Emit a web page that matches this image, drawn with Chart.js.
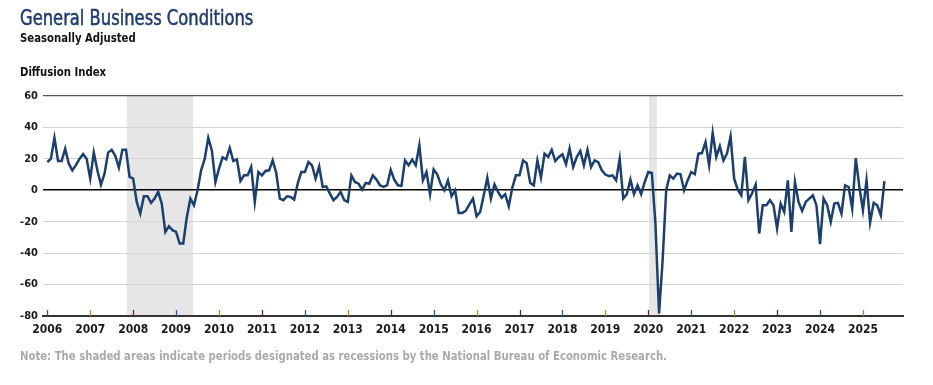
<!DOCTYPE html>
<html>
<head>
<meta charset="utf-8">
<script src="https://cdn.jsdelivr.net/npm/chart.js@4.4.1/dist/chart.umd.min.js"></script>
<style>
    body { margin: 0; background: #fff; }
    #wrap { position: relative; width: 933px; height: 385px; overflow: hidden; font-family: 'Liberation Sans Narrow', 'DejaVu Sans Condensed', 'Arial Narrow', sans-serif; }
    #wrap canvas { position: absolute; left: 0; top: 0; }
    .txt { position: absolute; left: 20px; white-space: nowrap; transform: scaleX(0.865); transform-origin: left top; }
    #title { top: 6px; font-size: 21px; color: #1f3c6c; -webkit-text-stroke: 0.5px #1f3c6c; }
    #subtitle { top: 30px; font-size: 13px; font-weight: bold; color: #111; }
    #unit { top: 64px; font-size: 13px; font-weight: bold; color: #111; }
    #note { top: 348px; font-size: 13px; font-weight: bold; color: #a9a9a9; }
</style>
</head>
<body>
<div id="wrap">
    <canvas id="gbcChart" width="933" height="385"></canvas>
    <div class="txt" id="title">General Business Conditions</div>
    <div class="txt" id="subtitle">Seasonally Adjusted</div>
    <div class="txt" id="unit">Diffusion Index</div>
    <div class="txt" id="note">Note: The shaded areas indicate periods designated as recessions by the National Bureau of Economic Research.</div>
</div>
<script>
// Year labels on the x axis (first month of each year)
const years = ['2006', '2007', '2008', '2009', '2010', '2011', '2012', '2013', '2014', '2015',
    '2016', '2017', '2018', '2019', '2020', '2021', '2022', '2023', '2024', '2025'];

// Y axis ticks
const yTicks = [-80, -60, -40, -20, 0, 20, 40, 60];

// Monthly index values, Jan 2006 - Jul 2025 (one row per year)
const indexValues = [
    18, 20, 33.4, 18.6, 18.6, 26.5, 17, 12.7, 16, 20, 23, 20,            // 2006
    7.4, 24, 12.7, 3.6, 10.6, 24, 25.8, 22, 14.4, 25.8, 25.8, 8.5,       // 2007
    7.4, -7.4, -14.8, -3.8, -3.8, -8, -5.3, -1, -8.5, -26.5, -22.9, -25.4, // 2008
    -26.5, -33.9, -33.9, -17, -5.3, -9.5, 0, 12.7, 20, 33.4, 25.4, 5.3,  // 2009
    13.8, 21, 19.7, 27, 18.6, 19.7, 5.9, 9.5, 9.5, 14.8, -7.4, 11.6,     // 2010
    9.5, 12.3, 12.7, 19, 11, -5.3, -6.3, -3.8, -4.2, -5.9, 4.2, 11.6,    // 2011
    11.6, 18, 15.9, 7.4, 15.2, 2.1, 2.5, -2.1, -6.3, -4.2, -1, -6.3,     // 2012
    -7.4, 9.5, 5.3, 4.2, 0.4, 4.7, 4.2, 9.5, 6.8, 3.2, 2.1, 3.2,         // 2013
    13, 6.8, 3.2, 2.8, 19, 15.9, 19.5, 15.9, 28.6, 6.3, 11.6, -2.5,      // 2014
    13.3, 10.2, 3.8, 0, 6.3, -3.8, 0, -14.4, -14.4, -13, -9, -5.3,       // 2015
    -16.5, -13.8, -3.2, 8, -5.3, 3.8, -1, -4.7, -2.5, -10.2, 1.7, 9.5,   // 2016
    9.5, 19, 17.3, 4.7, 3.2, 19, 8, 23.3, 21.2, 25.8, 18.6, 21.2,        // 2017
    22.9, 16.5, 26.5, 14.8, 21.2, 25, 15.9, 25.8, 14.8, 19, 17.9, 12.7,  // 2018
    10, 9, 9.5, 6.3, 20, -5.3, -2.5, 6.8, -2.5, 3.2, -2.5, 5.3,          // 2019
    11.6, 11, -21.5, -78.5, -45, 0, 9.5, 7.4, 10.6, 10.2, 0, 6.3,        // 2020
    11.6, 10.2, 23.3, 23.7, 30.7, 15.9, 36.6, 21.2, 28, 19, 23.3, 34.3,  // 2021
    7.4, 0.4, -3.2, 21.2, -6.3, -2.1, 3.6, -27.5, -9.5, -9.5, -6.3, -9.5, // 2022
    -24.3, -8.5, -13.8, 6.3, -26.5, 5.3, -7.4, -13.1, -7.4, -5.3, -3.2, -9.5, // 2023
    -34.3, -5.3, -9.5, -20.1, -8.5, -8, -14.8, 3.2, 2.1, -11.6, 20.5, 2.1, // 2024
    -12.7, 6.3, -20.5, -8, -9.5, -15.9, 5.9                             // 2025
];

// NBER recessions, in months since Jan 2006 (start, end)
const recessions = [[22.2, 40.8], [168.2, 170.4]];

const FONT = "'Liberation Sans Narrow', 'DejaVu Sans Condensed', 'Arial Narrow', sans-serif";
const tickColors = ['#2f5a9c', '#c0812e', '#6e1f38'];

// Grey bands behind the grid
const recessionPlugin = {
    id: 'recessionBands',
    beforeDraw(chart) {
        const { ctx, chartArea, scales } = chart;
        ctx.save();
        ctx.fillStyle = '#e6e6e6';
        recessions.forEach(([s, e]) => {
            const x1 = scales.x.getPixelForValue(s);
            const x2 = scales.x.getPixelForValue(e);
            ctx.fillRect(x1, chartArea.top, x2 - x1, chartArea.bottom - chartArea.top);
        });
        ctx.restore();
    }
};

// Small year marks sitting on the bottom axis
const yearMarkPlugin = {
    id: 'yearMarks',
    beforeDatasetsDraw(chart) {
        const { ctx, chartArea, scales } = chart;
        ctx.save();
        ctx.lineWidth = 1.3;
        scales.x.ticks.forEach((t, i) => {
            const x = Math.round(scales.x.getPixelForValue(t.value)) + 0.5;
            ctx.strokeStyle = tickColors[i % tickColors.length];
            ctx.beginPath();
            ctx.moveTo(x, chartArea.bottom);
            ctx.lineTo(x, chartArea.bottom - 6);
            ctx.stroke();
        });
        ctx.restore();
    }
};

const ctx = document.getElementById('gbcChart').getContext('2d');
new Chart(ctx, {
    type: 'line',
    data: {
        datasets: [{
            label: 'General Business Conditions',
            data: indexValues.map((v, i) => ({ x: i, y: v })),
            borderColor: '#1c3f6d',
            borderWidth: 2.5,
            pointRadius: 0,
            tension: 0,
            fill: false
        }]
    },
    options: {
        responsive: false,
        animation: false,
        devicePixelRatio: 1,
        layout: { padding: { top: 96, right: 30, left: 0, bottom: 0 } },
        plugins: {
            legend: { display: false },
            tooltip: { enabled: false }
        },
        scales: {
            x: {
                type: 'linear',
                min: -1.2,
                max: 239.2,
                afterBuildTicks: (scale) => {
                    scale.ticks = years.map((_, i) => ({ value: i * 12 }));
                },
                afterFit: (scale) => { scale.height = 69; },
                ticks: {
                    autoSkip: false,
                    maxRotation: 0,
                    padding: 7,
                    color: '#1a1a1a',
                    font: { family: FONT, size: 12, weight: 'bold' },
                    callback: (v) => years[Math.round(v / 12)]
                },
                grid: { drawOnChartArea: false, drawTicks: false },
                border: { color: '#333', width: 2 }
            },
            y: {
                min: -80,
                max: 60,
                afterBuildTicks: (scale) => {
                    scale.ticks = yTicks.map(v => ({ value: v }));
                },
                afterFit: (scale) => { scale.width = 43; },
                ticks: {
                    padding: 5,
                    color: '#1a1a1a',
                    font: { family: FONT, size: 11, weight: 'bold' }
                },
                grid: {
                    drawTicks: false,
                    color: (c) => {
                        const v = c.tick.value;
                        if (v === 0) return '#000';
                        if (v === 60) return '#555';
                        if (v === -80) return '#333';
                        return '#d3d3d3';
                    },
                    lineWidth: (c) => (c.tick.value === 0 ? 1.6 : (c.tick.value === 60 ? 1.3 : 1))
                },
                border: { display: false }
            }
        }
    },
    plugins: [recessionPlugin, yearMarkPlugin]
});
</script>
</body>
</html>
